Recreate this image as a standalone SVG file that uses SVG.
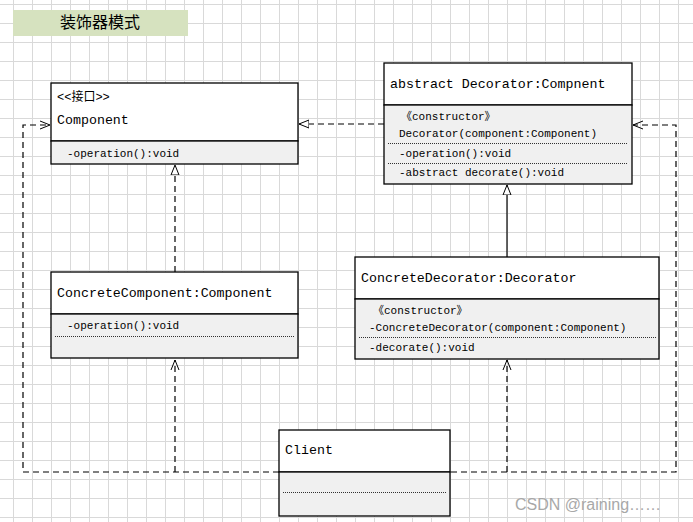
<svg xmlns="http://www.w3.org/2000/svg" width="693" height="522" viewBox="0 0 693 522">
<defs>
<pattern id="grid" x="13" y="4" width="19" height="19" patternUnits="userSpaceOnUse">
<path d="M0.5 0V19M0 0.5H19" stroke="#d9d9d9" stroke-width="1" fill="none"/>
</pattern>
<marker id="tri" markerWidth="12" markerHeight="12" refX="10" refY="5" orient="auto" markerUnits="userSpaceOnUse" viewBox="0 0 12 12">
<path d="M10 5L0 1V9Z" fill="#fff" stroke="#000" stroke-width="1"/>
</marker>
<marker id="open" markerWidth="12" markerHeight="12" refX="10" refY="5" orient="auto" markerUnits="userSpaceOnUse" viewBox="0 0 12 12">
<path d="M0 1L10 5L0 9" fill="none" stroke="#000" stroke-width="1"/>
</marker>
</defs>
<style>
.box{fill:#fff;stroke:#000;stroke-width:1.3}
.low{fill:#f0f0f0;stroke:#000;stroke-width:1.3}
.dot{stroke:#000;stroke-width:0.8;stroke-dasharray:1 1;fill:none}
.t{font-family:"Liberation Mono","Noto Sans CJK SC",monospace;fill:#000}
.n{font-size:13.3px}
.m{font-size:11px}
.dash{fill:none;stroke:#000;stroke-width:1.2;stroke-dasharray:6 4}
.sol{fill:none;stroke:#000;stroke-width:1.2}
</style>
<rect width="693" height="522" fill="#fff"/>
<rect width="693" height="522" fill="url(#grid)"/>
<g id="title">
<rect x="13" y="10" width="175" height="26" fill="#d6e2bf"/>
<text x="100" y="28" text-anchor="middle" font-family="Noto Sans CJK SC,sans-serif" font-size="16">装饰器模式</text>
</g>
<g id="connectors">
<path class="dash" d="M279 472H23V125H50" marker-end="url(#open)"/>
<path class="dash" d="M451 472H676V125H633" marker-end="url(#open)"/>
<path class="dash" d="M175 472V360" marker-end="url(#open)"/>
<path class="dash" d="M507 472V360" marker-end="url(#open)"/>
<path class="dash" d="M175 272V165" marker-end="url(#tri)"/>
<path class="sol" d="M507 257V185" marker-end="url(#tri)"/>
<path class="dash" d="M384 124H299" marker-end="url(#tri)"/>
</g>
<g id="component">
<rect class="box" x="51" y="83" width="247" height="58"/>
<rect class="low" x="51" y="141" width="247" height="23"/>
<text class="t" x="57" y="101" font-size="12">&lt;&lt;接口&gt;&gt;</text>
<text class="t n" x="57" y="124">Component</text>
<text class="t m" x="67" y="157">-operation():void</text>
</g>
<g id="decorator">
<rect class="box" x="384" y="63" width="248" height="42"/>
<rect class="low" x="384" y="105" width="248" height="79"/>
<text class="t n" x="390" y="88">abstract Decorator:Compnent</text>
<text class="t m" x="401" y="120">《constructor》</text>
<text class="t m" x="399" y="137">Decorator(component:Component)</text>
<line class="dot" x1="388" y1="143.5" x2="628" y2="143.5"/>
<text class="t m" x="399" y="157">-operation():void</text>
<line class="dot" x1="388" y1="163.5" x2="628" y2="163.5"/>
<text class="t m" x="399" y="176">-abstract decorate():void</text>
</g>
<g id="concreteComponent">
<rect class="box" x="51" y="272" width="247" height="42"/>
<rect class="low" x="51" y="314" width="247" height="44"/>
<text class="t n" x="57" y="297">ConcreteComponent:Component</text>
<text class="t m" x="67" y="329">-operation():void</text>
<line class="dot" x1="55" y1="336.5" x2="295" y2="336.5"/>
</g>
<g id="concreteDecorator">
<rect class="box" x="355" y="257" width="304" height="42"/>
<rect class="low" x="355" y="299" width="304" height="60"/>
<text class="t n" x="361" y="282">ConcreteDecorator:Decorator</text>
<text class="t m" x="373" y="314">《constructor》</text>
<text class="t m" x="369" y="331">-ConcreteDecorator(component:Component)</text>
<line class="dot" x1="359" y1="337.5" x2="656" y2="337.5"/>
<text class="t m" x="369" y="351">-decorate():void</text>
</g>
<g id="client">
<rect class="box" x="279" y="430" width="171" height="42"/>
<rect class="low" x="279" y="472" width="171" height="44"/>
<text class="t n" x="285" y="454">Client</text>
<line class="dot" x1="283" y1="492.5" x2="447" y2="492.5"/>
</g>
<text x="515" y="510" font-family="Liberation Sans,sans-serif" font-size="16" fill="#a8a8a8">CSDN @raining……</text>
</svg>
